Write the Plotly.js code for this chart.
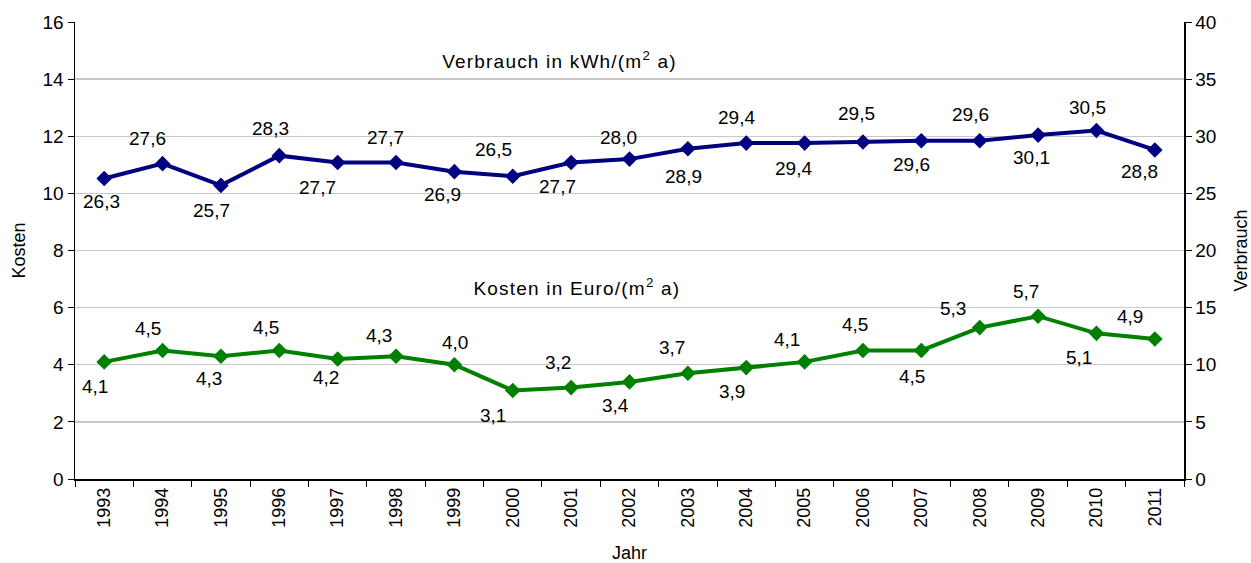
<!DOCTYPE html>
<html>
<head>
<meta charset="utf-8">
<script src="https://cdn.plot.ly/plotly-3.0.1.min.js"></script>
<style>
html,body{margin:0;padding:0;background:#fff;}
#chart{width:1251px;height:563px;}
.annotation[data-index="38"] text, .annotation[data-index="39"] text {letter-spacing: 1.2px;}
</style>
</head>
<body>
<div id="chart"></div>
<script>
// ---- data ----
const years = ["1993","1994","1995","1996","1997","1998","1999","2000","2001","2002","2003","2004","2005","2006","2007","2008","2009","2010","2011"];
const verbrauch = [26.3,27.6,25.7,28.3,27.7,27.7,26.9,26.5,27.7,28.0,28.9,29.4,29.4,29.5,29.6,29.6,30.1,30.5,28.8];
const kosten = [4.1,4.5,4.3,4.5,4.2,4.3,4.0,3.1,3.2,3.4,3.7,3.9,4.1,4.5,4.5,5.3,5.7,5.1,4.9];
const verbTitle = "Verbrauch in kWh/(m<sup>2</sup> a)";
const kostTitle = "Kosten in Euro/(m<sup>2</sup> a)";

// ---- label placement (pixel offsets from each point: dx, dy downwards) ----
const verbDx = [-3,-15,-9,-9,-20,-11,-12,-19,-14,-11,-4,-10,-11,-6,-10,-9,-7,-9,-15];
const verbDy = [23,-25,25,-27,25,-25,23,-27,24,-22,28,-26,25,-28,24,-26,22,-23,22];
const kostDx = [-9,-15,-12,-13,-12,-17,1,-20,-13,-14,-16,-14,-18,-8,-9,-27,-12,-17,-25];
const kostDy = [25,-22,22,-23,18,-21,-22,25,-25,24,-26,24,-22,-26,26,-19,-25,24,-23];

const FONT = "Liberation Sans, Arial, sans-serif";
const fmt = v => v.toFixed(1).replace('.', ',');

const traces = [
  {
    x: years, y: kosten, yaxis: 'y', type: 'scatter', mode: 'lines+markers',
    line: {color: '#008000', width: 4},
    marker: {symbol: 'diamond', size: 12, color: '#008000'},
    hoverinfo: 'skip', showlegend: false
  },
  {
    x: years, y: verbrauch, yaxis: 'y2', type: 'scatter', mode: 'lines+markers',
    line: {color: '#000080', width: 4},
    marker: {symbol: 'diamond', size: 12, color: '#000080'},
    hoverinfo: 'skip', showlegend: false
  }
];

const annotations = [];
years.forEach((yr, i) => {
  annotations.push({
    x: i, y: verbrauch[i], xref: 'x', yref: 'y2', text: fmt(verbrauch[i]),
    showarrow: false, xanchor: 'center', yanchor: 'middle',
    xshift: verbDx[i], yshift: -verbDy[i],
    font: {family: FONT, size: 19, color: '#000'}
  });
  annotations.push({
    x: i, y: kosten[i], xref: 'x', yref: 'y', text: fmt(kosten[i]),
    showarrow: false, xanchor: 'center', yanchor: 'middle',
    xshift: kostDx[i], yshift: -kostDy[i],
    font: {family: FONT, size: 19, color: '#000'}
  });
});
annotations.push({
  x: 0.437, y: 0.917, xref: 'paper', yref: 'paper', text: verbTitle,
  showarrow: false, xanchor: 'center', yanchor: 'middle',
  font: {family: FONT, size: 19, color: '#000'}
});
annotations.push({
  x: 0.4527, y: 0.42, xref: 'paper', yref: 'paper', text: kostTitle,
  showarrow: false, xanchor: 'center', yanchor: 'middle',
  font: {family: FONT, size: 19, color: '#000'}
});

const layout = {
  width: 1251, height: 563,
  margin: {l: 75, r: 67, t: 22, b: 84},
  paper_bgcolor: '#fff', plot_bgcolor: '#fff',
  font: {family: FONT, size: 19, color: '#000'},
  showlegend: false,
  xaxis: {
    type: 'category', categoryorder: 'array', categoryarray: years,
    range: [-0.5, years.length - 0.5],
    tickson: 'boundaries', ticks: 'outside', ticklen: 6,
    tickcolor: '#000', tickangle: -90, showgrid: false,
    showline: true, linecolor: '#000', linewidth: 1.5,
    tickfont: {family: FONT, size: 18},
    title: {text: 'Jahr', font: {family: FONT, size: 18}, standoff: 20},
    automargin: false, fixedrange: true
  },
  yaxis: {
    range: [0, 16], dtick: 2, ticks: 'outside', ticklen: 6, tickcolor: '#000',
    showline: true, linecolor: '#000', linewidth: 1.5,
    showgrid: true, gridcolor: '#c8c8c8', gridwidth: 1.3, zeroline: false,
    tickfont: {family: FONT, size: 19},
    title: {text: 'Kosten', font: {family: FONT, size: 18}, standoff: 12},
    automargin: false, fixedrange: true
  },
  yaxis2: {
    range: [0, 40], dtick: 5, overlaying: 'y', side: 'right',
    ticks: 'outside', ticklen: 6, tickcolor: '#000',
    showline: true, linecolor: '#000', linewidth: 1.5,
    showgrid: false, zeroline: false,
    tickfont: {family: FONT, size: 19},
    title: {text: 'Verbrauch', font: {family: FONT, size: 18}, standoff: 19},
    automargin: false, fixedrange: true
  },
  yaxis3: {
    range: [0, 40], dtick: 5, overlaying: 'y', side: 'right',
    ticks: 'inside', ticklen: 6, tickcolor: '#000',
    showticklabels: false, showline: false, showgrid: false, zeroline: false,
    fixedrange: true
  },
  annotations: annotations
};

Plotly.newPlot('chart', traces, layout, {staticPlot: true, displayModeBar: false});
</script>
</body>
</html>
